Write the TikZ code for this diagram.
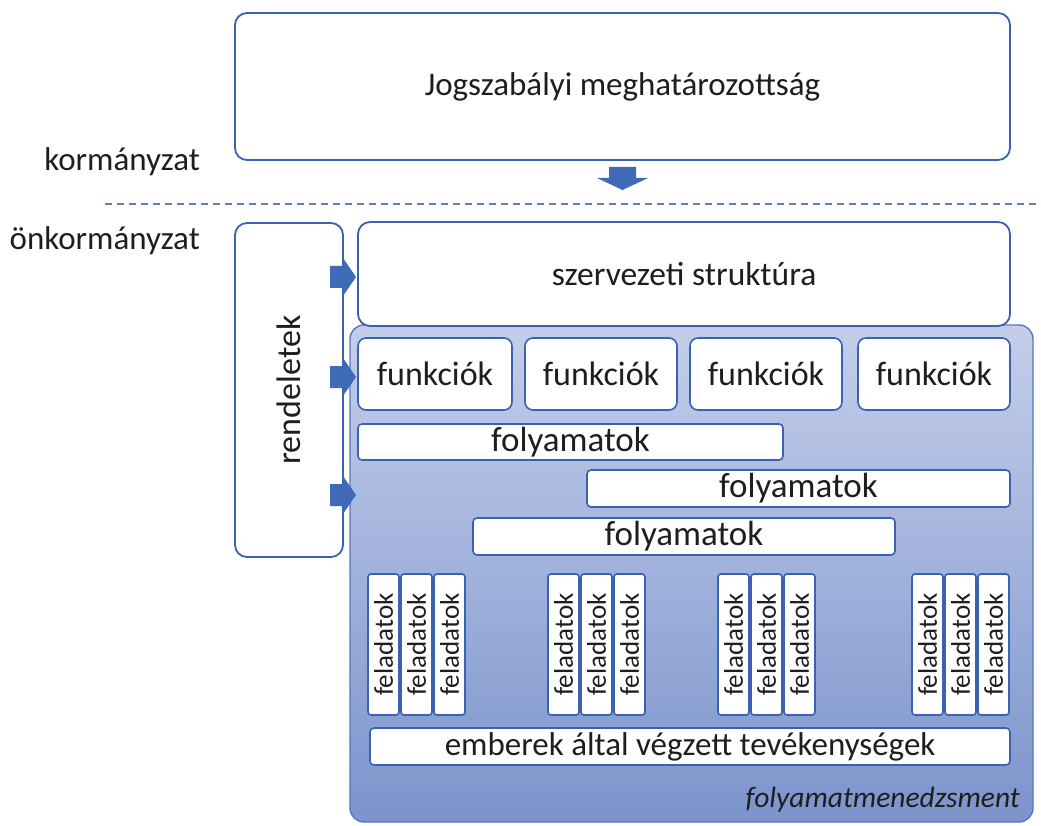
\documentclass[tikz,border=0pt]{standalone}
\usepackage{fontspec}
\setmainfont{Carlito}
\definecolor{bblue}{RGB}{58,98,176}
\definecolor{afill}{RGB}{62,106,184}
\definecolor{areatop}{RGB}{196,206,234}
\definecolor{areabot}{RGB}{124,148,204}
\definecolor{areaedge}{RGB}{88,118,188}
\definecolor{txt}{RGB}{30,30,30}
\tikzset{
  bigbox/.style={draw=bblue, line width=1.8pt, fill=white, rounded corners=12pt, inner sep=0pt, text=txt},
  smallbox/.style={draw=bblue, line width=1.6pt, fill=white, rounded corners=4pt, inner sep=0pt, text=txt},
  blockarrow/.style={fill=afill, draw=none},
  lbl/.style={text=txt, inner sep=0pt}
}
\begin{document}
\begin{tikzpicture}[x=1pt,y=-1pt]
\useasboundingbox (0,0) rectangle (1041,826);

% top box
\node[bigbox, minimum width=775, minimum height=147, font=\fontsize{33}{38}\selectfont] (top) at (622.5,86.5) {Jogszabályi meghatározottság};

% side labels
\node[lbl, anchor=east, font=\fontsize{33}{38}\selectfont] (korm) at (200,162) {kormányzat};
\node[lbl, anchor=east, font=\fontsize{33}{38}\selectfont] (onkorm) at (200,241) {önkormányzat};

% down arrow
\draw[blockarrow] (609,167) -- (636,167) -- (636,178) -- (648,178) -- (622.5,190) -- (597,178) -- (609,178) -- cycle;

% dashed separator
\coordinate (dl) at (105,204);
\coordinate (dr) at (1041,204);
\draw[bblue!80, line width=1.2pt, dash pattern=on 7pt off 5pt] (dl) -- (dr);

% process-management area
\node[rounded corners=14pt, draw=areaedge, line width=1.4pt, top color=areatop, bottom color=areabot, minimum width=683, minimum height=497, inner sep=0pt] (area) at (691.5,573.5) {};
\node[lbl, anchor=south east, font=\fontsize{29.5}{34}\selectfont\itshape] (fm) at (1020,812) {folyamatmenedzsment};

% rendeletek
\node[bigbox, minimum width=334, minimum height=108, rotate=90, font=\fontsize{34}{39}\selectfont] (rend) at (289,390) {rendeletek};

% szervezeti struktura
\node[bigbox, minimum width=652, minimum height=104, font=\fontsize{33.5}{38}\selectfont] (szerv) at (684,274) {szervezeti struktúra};

% funkciok
\foreach \n/\a/\b in {1/358/512, 2/525/677, 3/690/842, 4/858/1010}{
  \node[smallbox, rounded corners=8pt, minimum width={\b-\a}, minimum height=72, font=\fontsize{34}{39}\selectfont] (f\n) at ({(\a+\b)/2},374) {funkciók};
}

% folyamatok
\node[smallbox, minimum width=425, minimum height=36, font=\fontsize{35}{40}\selectfont] (p1) at (570.5,442) {folyamatok};
\node[smallbox, minimum width=423, minimum height=37, font=\fontsize{35}{40}\selectfont] (p2) at (798.5,488.5) {folyamatok};
\node[smallbox, minimum width=422, minimum height=37, font=\fontsize{35}{40}\selectfont] (p3) at (684,536.5) {folyamatok};

% feladatok
\foreach \g/\x in {1/368, 2/548, 3/718, 4/912}{
  \foreach \k in {0,1,2}{
    \node[smallbox, rounded corners=3pt, minimum width=141, minimum height=31, rotate=90, font=\fontsize{27}{30}\selectfont] (t\g\k) at ({\x+15.5+33*\k},644.5) {feladatok};
  }
}

% emberek
\node[smallbox, minimum width=640, minimum height=37, font=\fontsize{33}{38}\selectfont] (emb) at (690,746.5) {emberek által végzett tevékenységek};

% arrows from rendeletek
\foreach \y in {277,377,495}{
  \draw[blockarrow] (330,{\y-11}) -- (343,{\y-11}) -- (343,{\y-19}) -- (356,\y) -- (343,{\y+19}) -- (343,{\y+11}) -- (330,{\y+11}) -- cycle;
}
\end{tikzpicture}
\end{document}
